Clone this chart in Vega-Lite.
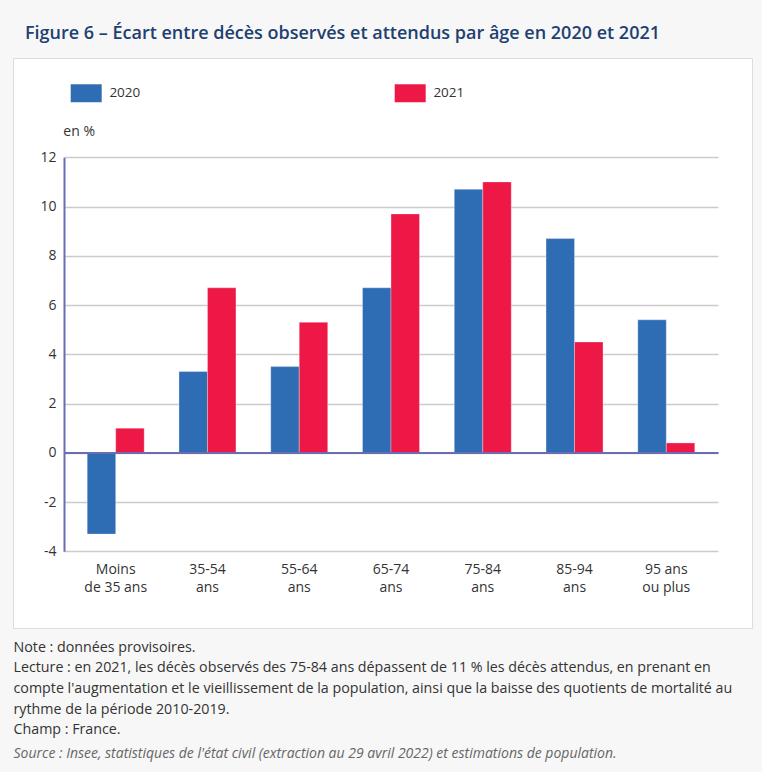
{
  "$schema": "https://vega.github.io/schema/vega-lite/v6.json",
  "width": 739,
  "height": 570,
  "autosize": {"type": "none"},
  "padding": {"left": 13, "top": 58, "right": 10, "bottom": 144},
  "background": "#f7f7f7",
  "title": {
    "text": "Figure 6 – Écart entre décès observés et attendus par âge en 2020 et 2021",
    "anchor": "start",
    "frame": "group",
    "dx": 12,
    "offset": 1,
    "baseline": "alphabetic",
    "font": "Open Sans",
    "fontSize": 18,
    "fontWeight": 600,
    "color": "#213f70"
  },
  "data": {
    "values": [
      {"age": "Moins de 35 ans", "year": "2020", "value": -3.3},
      {"age": "Moins de 35 ans", "year": "2021", "value": 1.0},
      {"age": "35-54 ans", "year": "2020", "value": 3.3},
      {"age": "35-54 ans", "year": "2021", "value": 6.7},
      {"age": "55-64 ans", "year": "2020", "value": 3.5},
      {"age": "55-64 ans", "year": "2021", "value": 5.3},
      {"age": "65-74 ans", "year": "2020", "value": 6.7},
      {"age": "65-74 ans", "year": "2021", "value": 9.7},
      {"age": "75-84 ans", "year": "2020", "value": 10.7},
      {"age": "75-84 ans", "year": "2021", "value": 11.0},
      {"age": "85-94 ans", "year": "2020", "value": 8.7},
      {"age": "85-94 ans", "year": "2021", "value": 4.5},
      {"age": "95 ans ou plus", "year": "2020", "value": 5.4},
      {"age": "95 ans ou plus", "year": "2021", "value": 0.4}
    ]
  },
  "mark": {"type": "bar", "stroke": "white", "strokeOpacity": 0.3, "strokeWidth": 1},
  "encoding": {
    "x": {
      "field": "age",
      "type": "nominal",
      "sort": ["Moins de 35 ans", "35-54 ans", "55-64 ans", "65-74 ans", "75-84 ans", "85-94 ans", "95 ans ou plus"],
      "scale": {"range": [51, 705], "paddingInner": 0.379, "paddingOuter": 0.253},
      "axis": {
        "orient": "bottom",
        "offset": -175.5,
        "zindex": 1,
        "grid": false,
        "ticks": false,
        "domainColor": "#6b6db3",
        "domainWidth": 2,
        "labelAngle": 0,
        "labelPadding": 109.5,
        "labelFont": "Open Sans",
        "labelFontSize": 14,
        "labelColor": "#333333",
        "labelLineHeight": 18.5,
        "labelLimit": 200,
        "labelOverlap": false,
        "labelExpr": "datum.label == 'Moins de 35 ans' ? ['Moins', 'de 35 ans'] : datum.label == '95 ans ou plus' ? ['95 ans', 'ou plus'] : split(datum.label, ' ')",
        "title": [
          "Note : données provisoires.",
          "Lecture : en 2021, les décès observés des 75-84 ans dépassent de 11 % les décès attendus, en prenant en",
          "compte l'augmentation et le vieillissement de la population, ainsi que la baisse des quotients de mortalité au",
          "rythme de la période 2010-2019.",
          "Champ : France."
        ],
        "titleX": 0,
        "titleY": 187.5,
        "titleAlign": "left",
        "titleBaseline": "top",
        "titleAngle": 0,
        "titleLineHeight": 20.7,
        "titleFont": "Open Sans",
        "titleFontSize": 14.25,
        "titleFontWeight": "normal",
        "titleColor": "#333333"
      }
    },
    "xOffset": {
      "field": "year",
      "type": "nominal",
      "scale": {"paddingInner": 0, "paddingOuter": 0}
    },
    "y": {
      "field": "value",
      "type": "quantitative",
      "scale": {"domain": [-4, 12], "range": [493.3, 99.3], "nice": false, "zero": false},
      "axis": {
        "orient": "left",
        "offset": -51,
        "zindex": 0,
        "values": [-4, -2, 0, 2, 4, 6, 8, 10, 12],
        "grid": false,
        "domainColor": "#6b6db3",
        "domainWidth": 2,
        "ticks": true,
        "tickSize": -654,
        "tickColor": "#cccccc",
        "tickWidth": 1.5,
        "labelPadding": 662,
        "labelFont": "Open Sans",
        "labelFontSize": 14,
        "labelColor": "#333333",
        "labelExpr": "'' + datum.value",
        "title": "Source : Insee, statistiques de l'état civil (extraction au 29 avril 2022) et estimations de population.",
        "titleX": -51,
        "titleY": 695,
        "titleAngle": 0,
        "titleAlign": "left",
        "titleBaseline": "middle",
        "titleFont": "Open Sans",
        "titleFontStyle": "italic",
        "titleFontWeight": "normal",
        "titleFontSize": 14,
        "titleColor": "#666666"
      }
    },
    "color": {
      "field": "year",
      "type": "nominal",
      "scale": {"domain": ["2020", "2021"], "range": ["#2e6db4", "#ed1846"]},
      "legend": {
        "orient": "none",
        "legendX": 50.3,
        "legendY": 19.5,
        "direction": "horizontal",
        "columns": 2,
        "padding": 0,
        "title": "en %",
        "titleOrient": "bottom",
        "titleAnchor": "start",
        "titlePadding": 22,
        "titleFont": "Open Sans",
        "titleFontSize": 14,
        "titleFontWeight": "normal",
        "titleColor": "#333333",
        "symbolType": "M-1,-0.58H1V0.58H-1Z",
        "symbolSize": 961,
        "symbolOffset": 7.4,
        "symbolStrokeWidth": 0,
        "symbolOpacity": 1,
        "labelOffset": 7.7,
        "labelFont": "Open Sans",
        "labelFontSize": 13.5,
        "labelColor": "#333333",
        "columnPadding": 247
      }
    }
  },
  "config": {
    "font": "Open Sans",
    "view": {"fill": "white", "stroke": "#dddddd", "strokeWidth": 1}
  }
}
